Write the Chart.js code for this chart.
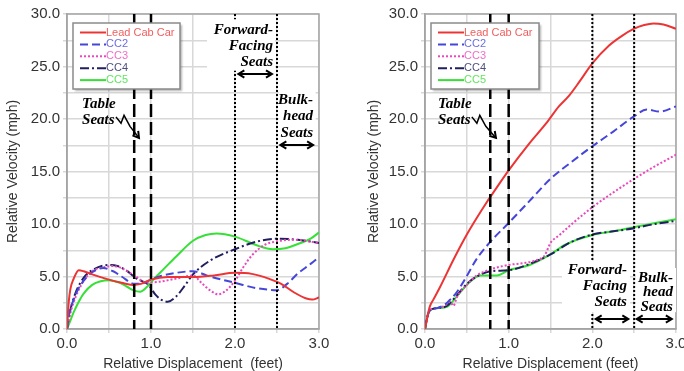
<!DOCTYPE html>
<html>
<head>
<meta charset="utf-8">
<script src="https://cdn.jsdelivr.net/npm/chart.js@4/dist/chart.umd.min.js"></script>
<style>
    html, body { margin: 0; padding: 0; background: #fff; overflow: hidden; }
    #wrap { position: relative; width: 684px; height: 371px; overflow: hidden; }
    .panel { position: absolute; top: 0; height: 371px; }
    #left  { left: 0; width: 340px; }
    #right { left: 340px; width: 360px; }
</style>
</head>
<body>
<div id="wrap">
    <div class="panel" id="left"><canvas id="chartLeft" width="340" height="371"></canvas></div>
    <div class="panel" id="right"><canvas id="chartRight" width="360" height="371"></canvas></div>
</div>
<script>
// ============================================================
//  Data: [relative displacement (ft), relative velocity (mph)]
// ============================================================

const seriesNames = ["Lead Cab Car", "CC2", "CC3", "CC4", "CC5"];
const xTickLabels = [0, 1, 2, 3];
const yTickLabels = [0, 5, 10, 15, 20, 25, 30];

// left panel
const leftLead = [[0,0],[0.02,2.5],[0.04,3.8],[0.08,4.8],[0.14,5.6],[0.2,5.5],[0.3,5.2],[0.5,4.7],[0.65,4.4],[0.78,4.2],[0.88,4.3],[1.0,4.7],[1.2,4.95],[1.5,4.95],[1.75,5.1],[2.0,5.35],[2.2,5.25],[2.4,4.8],[2.55,4.3],[2.7,3.5],[2.85,2.9],[2.92,2.8],[3.0,3.0]];
const leftCC2  = [[0,0],[0.03,1.6],[0.07,2.6],[0.12,3.6],[0.2,4.6],[0.3,5.4],[0.43,5.8],[0.55,5.5],[0.65,5.0],[0.8,4.3],[0.9,4.35],[1.0,4.7],[1.1,5.0],[1.3,5.35],[1.5,5.5],[1.7,5.0],[2.0,4.4],[2.25,3.9],[2.5,3.7],[2.62,4.3],[2.75,5.3],[2.9,6.2],[3.0,6.85]];
const leftCC3  = [[0,0],[0.04,1.5],[0.1,3.0],[0.2,4.6],[0.3,5.5],[0.45,5.9],[0.55,6.0],[0.65,5.8],[0.8,5.1],[0.95,4.4],[1.1,4.5],[1.3,4.8],[1.5,5.1],[1.6,4.4],[1.7,3.7],[1.8,3.3],[1.9,3.7],[2.0,4.6],[2.1,5.9],[2.2,7.0],[2.35,8.0],[2.5,8.35],[2.7,8.5],[3.0,8.2]];
const leftCC4  = [[0,0],[0.04,1.8],[0.1,3.4],[0.2,4.9],[0.3,5.6],[0.5,6.1],[0.6,6.0],[0.7,5.6],[0.83,4.8],[0.97,4.2],[1.05,3.3],[1.12,2.8],[1.2,2.6],[1.3,3.1],[1.4,4.1],[1.5,5.2],[1.7,6.5],[2.0,7.6],[2.25,8.3],[2.5,8.6],[2.75,8.5],[3.0,8.2]];
const leftCC5  = [[0,0],[0.04,0.8],[0.08,1.6],[0.14,2.6],[0.2,3.4],[0.3,4.2],[0.4,4.55],[0.5,4.65],[0.63,4.4],[0.72,4.0],[0.8,3.65],[0.87,3.55],[0.95,4.0],[1.05,4.9],[1.15,5.7],[1.3,6.9],[1.5,8.4],[1.65,8.95],[1.78,9.1],[2.0,8.8],[2.25,8.0],[2.45,7.6],[2.6,7.7],[2.75,8.1],[2.9,8.6],[3.0,9.2]];

// right panel
const rightLead = [[0,0],[0.02,0.8],[0.04,1.6],[0.06,2.2],[0.1,2.8],[0.18,4.0],[0.34,6.6],[0.5,9.0],[0.62,10.6],[0.74,12.1],[0.8,12.8],[1.0,15.1],[1.25,17.7],[1.45,19.6],[1.6,21.2],[1.72,22.2],[1.85,23.6],[2.0,25.3],[2.2,27.0],[2.35,27.9],[2.5,28.6],[2.62,28.95],[2.73,29.1],[2.85,29.0],[3.0,28.6]];
const rightCC2  = [[0,0],[0.02,0.9],[0.06,1.8],[0.15,2.0],[0.25,2.4],[0.3,2.8],[0.36,3.3],[0.46,4.5],[0.62,6.7],[0.78,8.3],[1.0,10.1],[1.25,12.2],[1.5,14.3],[1.75,15.9],[2.0,17.4],[2.25,18.8],[2.49,20.2],[2.65,20.9],[2.81,20.7],[3.0,21.2]];
const rightCC3  = [[0,0],[0.02,0.9],[0.06,1.8],[0.15,2.0],[0.25,2.3],[0.3,2.6],[0.34,2.2],[0.38,3.0],[0.5,4.2],[0.62,5.1],[0.75,5.6],[1.0,6.1],[1.2,6.3],[1.35,6.6],[1.43,7.0],[1.5,8.2],[1.6,8.9],[1.77,10.1],[2.0,11.6],[2.25,13.0],[2.5,14.3],[2.75,15.5],[3.0,16.6]];
const rightCC4  = [[0,0],[0.02,0.9],[0.06,1.8],[0.15,2.0],[0.26,2.2],[0.38,3.2],[0.5,4.3],[0.62,5.0],[0.78,5.5],[1.0,5.6],[1.25,6.2],[1.5,7.1],[1.75,8.3],[2.0,9.0],[2.25,9.3],[2.5,9.6],[2.75,10.0],[3.0,10.3]];
const rightCC5  = [[0,0],[0.03,1.2],[0.06,1.8],[0.18,2.0],[0.26,2.1],[0.38,3.1],[0.5,4.2],[0.66,5.1],[0.86,5.1],[1.0,5.6],[1.25,6.1],[1.5,7.1],[1.67,8.0],[2.0,8.95],[2.25,9.3],[2.5,9.7],[2.75,10.1],[3.0,10.45]];

// ============================================================
//  Styles
// ============================================================

const LINE_STYLE = [
    { color: "#ec3434", dash: [] },            // Lead Cab Car
    { color: "#4646d8", dash: [8, 4] },        // CC2
    { color: "#ea48bc", dash: [2, 2] },        // CC3
    { color: "#20205e", dash: [9, 3, 2, 3] },  // CC4
    { color: "#36e036", dash: [] },            // CC5
];
const SANS = "'Liberation Sans', Arial, sans-serif";
const SERIF_NOTE = "italic bold 15px 'Liberation Serif', 'Times New Roman', serif";

// ============================================================
//  Drawing helpers for seat-zone notes and legend
// ============================================================

function vline(ctx, X, area, dash, w) {
    ctx.setLineDash(dash);
    ctx.lineWidth = w;
    ctx.strokeStyle = "#000";
    ctx.beginPath();
    ctx.moveTo(X, area.top);
    ctx.lineTo(X, area.bottom);
    ctx.stroke();
    ctx.setLineDash([]);
}

function chevron(ctx, X, Y, ang) {
    const s = 7, w = 0.55;
    ctx.beginPath();
    ctx.moveTo(X - s * Math.cos(ang - w), Y - s * Math.sin(ang - w));
    ctx.lineTo(X, Y);
    ctx.lineTo(X - s * Math.cos(ang + w), Y - s * Math.sin(ang + w));
    ctx.stroke();
}

function makeNotes(cfg) {
    return {
        id: "seatNotes",
        beforeDatasetsDraw(chart) {
            const { ctx, chartArea: a } = chart;
            ctx.save();
            ctx.strokeStyle = "#a6a6a6";
            ctx.lineWidth = 1.5;
            ctx.strokeRect(a.left, a.top, a.width, a.height);
            ctx.restore();
        },
        afterDatasetsDraw(chart) {
            const { ctx, chartArea: a, scales: { x, y } } = chart;
            ctx.save();
            cfg.dashed.forEach(v => vline(ctx, x.getPixelForValue(v), a, [13, 5], 2.5));
            cfg.dotted.forEach(v => vline(ctx, x.getPixelForValue(v), a, [2, 2], 2));

            // text blocks (white boxes hide the lines behind them)
            cfg.labels.forEach(l => {
                if (l.box) {
                    const x0 = x.getPixelForValue(l.box[0]), x1 = x.getPixelForValue(l.box[1]);
                    const y0 = y.getPixelForValue(l.box[2]), y1 = y.getPixelForValue(l.box[3]);
                    ctx.fillStyle = "#fff";
                    ctx.fillRect(x0, y0, x1 - x0, y1 - y0);
                }
                ctx.font = SERIF_NOTE;
                ctx.fillStyle = "#000";
                ctx.textAlign = l.align;
                ctx.textBaseline = "middle";
                const X = x.getPixelForValue(l.x), Y = y.getPixelForValue(l.y);
                l.lines.forEach((t, i) => ctx.fillText(t, X, Y + i * l.lh));
            });

            // double-headed zone arrows
            ctx.strokeStyle = "#000";
            ctx.lineWidth = 2;
            cfg.arrows.forEach(r => {
                const X0 = x.getPixelForValue(r[0]), X1 = x.getPixelForValue(r[1]);
                const Y = y.getPixelForValue(r[2]);
                ctx.beginPath();
                ctx.moveTo(X0, Y);
                ctx.lineTo(X1, Y);
                ctx.stroke();
                chevron(ctx, X1, Y, 0);
                chevron(ctx, X0, Y, Math.PI);
            });

            // zig-zag pointer from "Table Seats"
            const pts = cfg.bolt.map(p => [x.getPixelForValue(p[0]), y.getPixelForValue(p[1])]);
            ctx.lineWidth = 1.5;
            ctx.beginPath();
            pts.forEach((p, i) => i ? ctx.lineTo(p[0], p[1]) : ctx.moveTo(p[0], p[1]));
            ctx.stroke();
            const [pa, pb] = pts.slice(-2);
            ctx.lineWidth = 2;
            chevron(ctx, pb[0], pb[1], Math.atan2(pb[1] - pa[1], pb[0] - pa[0]));
            ctx.restore();
        },
        afterDraw(chart) {
            const { ctx, chartArea: a } = chart;
            const bx = a.left + 6, by = a.top + 9, bw = cfg.legendWidth, bh = 66;
            ctx.save();
            ctx.shadowColor = "rgba(0,0,0,0.3)";
            ctx.shadowOffsetX = 1.5;
            ctx.shadowOffsetY = 1.5;
            ctx.shadowBlur = 2;
            ctx.fillStyle = "#fff";
            ctx.fillRect(bx, by, bw, bh);
            ctx.shadowColor = "transparent";
            ctx.strokeStyle = "#8a8a8a";
            ctx.lineWidth = 1.5;
            ctx.strokeRect(bx, by, bw, bh);
            chart.data.datasets.forEach((ds, i) => {
                const yy = by + 9.5 + i * 11.9;
                ctx.setLineDash(ds.borderDash);
                ctx.strokeStyle = ds.borderColor;
                ctx.lineWidth = 2;
                ctx.beginPath();
                ctx.moveTo(bx + 7, yy);
                ctx.lineTo(bx + 33, yy);
                ctx.stroke();
                ctx.setLineDash([]);
                ctx.globalAlpha = 0.8;
                ctx.fillStyle = ds.borderColor;
                ctx.font = "11px " + SANS;
                ctx.textAlign = "left";
                ctx.textBaseline = "middle";
                ctx.fillText(ds.label, bx + 33, yy);
                ctx.globalAlpha = 1;
            });
            ctx.restore();
        },
    };
}

// ============================================================
//  Chart factory
// ============================================================

function buildChart(canvasId, series, notes, xTitle, padLeft, padRight, yWidth) {
    return new Chart(document.getElementById(canvasId), {
        type: "scatter",
        data: {
            datasets: series.map((pts, i) => ({
                label: seriesNames[i],
                data: pts.map(([x, y]) => ({ x, y })),
                showLine: true,
                borderColor: LINE_STYLE[i].color,
                borderDash: LINE_STYLE[i].dash,
                borderWidth: 2,
                pointRadius: 0,
                cubicInterpolationMode: "monotone",
                fill: false,
            })),
        },
        options: {
            responsive: false,
            animation: false,
            events: [],
            layout: { padding: { left: padLeft, right: padRight, top: 14, bottom: 0 } },
            plugins: { legend: { display: false }, tooltip: { enabled: false } },
            scales: {
                x: {
                    type: "linear",
                    min: 0, max: 3,
                    afterFit: s => { s.height = 42; },
                    grid: { color: "#d8d8d8", lineWidth: 1.5, tickLength: 4 },
                    border: { color: "#9c9c9c", width: 1.5 },
                    ticks: {
                        stepSize: 0.5,
                        autoSkip: false,
                        maxRotation: 0,
                        padding: 2,
                        color: "#333",
                        font: { family: SANS, size: 15 },
                        callback: v => xTickLabels.includes(v) ? v.toFixed(1) : "",
                    },
                    title: {
                        display: true,
                        text: xTitle,
                        color: "#333",
                        font: { family: SANS, size: 14 },
                        padding: { top: 0, bottom: -2 },
                    },
                },
                y: {
                    min: 0, max: 30,
                    afterFit: s => { s.width = yWidth; },
                    grid: { color: "#d8d8d8", lineWidth: 1.5, tickLength: 4 },
                    border: { color: "#9c9c9c", width: 1.5 },
                    ticks: {
                        stepSize: 2.5,
                        autoSkip: false,
                        padding: 3,
                        color: "#333",
                        font: { family: SANS, size: 15 },
                        callback: v => yTickLabels.includes(v) ? v.toFixed(1) : "",
                    },
                    title: {
                        display: true,
                        text: "Relative Velocity (mph)",
                        color: "#333",
                        font: { family: SANS, size: 14 },
                        padding: { top: 5, bottom: 0 },
                    },
                },
            },
        },
        plugins: [makeNotes(notes)],
    });
}

// ============================================================
//  Panels
// ============================================================

buildChart("chartLeft", [leftLead, leftCC2, leftCC3, leftCC4, leftCC5], {
    legendWidth: 107,
    dashed: [0.8, 1.0],
    dotted: [2.0, 2.5],
    labels: [
        { lines: ["Table", "Seats"], x: 0.18, y: 21.43, lh: 16, align: "left" },
        { lines: ["Forward-", "Facing", "Seats"], x: 2.452, y: 28.48, lh: 16, align: "right",
          box: [1.667, 2.476, 29.5, 24.6] },
        { lines: ["Bulk-", "head", "Seats"], x: 2.93, y: 21.8, lh: 16.5, align: "right",
          box: [2.52, 2.96, 22.6, 18.1] },
    ],
    arrows: [[2.04, 2.44, 24.29], [2.54, 2.93, 17.52]],
    bolt: [[0.583, 20.2], [0.643, 19.6], [0.679, 20.35], [0.75, 19.3], [0.857, 18.2]],
}, "Relative Displacement  (feet)", 0, 21, 67);

buildChart("chartRight", [rightLead, rightCC2, rightCC3, rightCC4, rightCC5], {
    legendWidth: 108,
    dashed: [0.78, 1.0],
    dotted: [2.0, 2.5],
    labels: [
        { lines: ["Table", "Seats"], x: 0.155, y: 21.43, lh: 16, align: "left" },
        { lines: ["Forward-", "Facing", "Seats"], x: 2.413, y: 5.62, lh: 16, align: "right",
          box: [1.637, 2.45, 6.5, 1.6] },
        { lines: ["Bulk-", "head", "Seats"], x: 2.963, y: 4.86, lh: 14.5, align: "right",
          box: [2.52, 3.0, 5.8, 1.6] },
    ],
    arrows: [[2.04, 2.43, 0.95], [2.53, 2.95, 0.95]],
    bolt: [[0.56, 20.2], [0.62, 19.6], [0.655, 20.35], [0.727, 19.3], [0.848, 18.2]],
}, "Relative Displacement (feet)", 21, 24, 64);
</script>
</body>
</html>
